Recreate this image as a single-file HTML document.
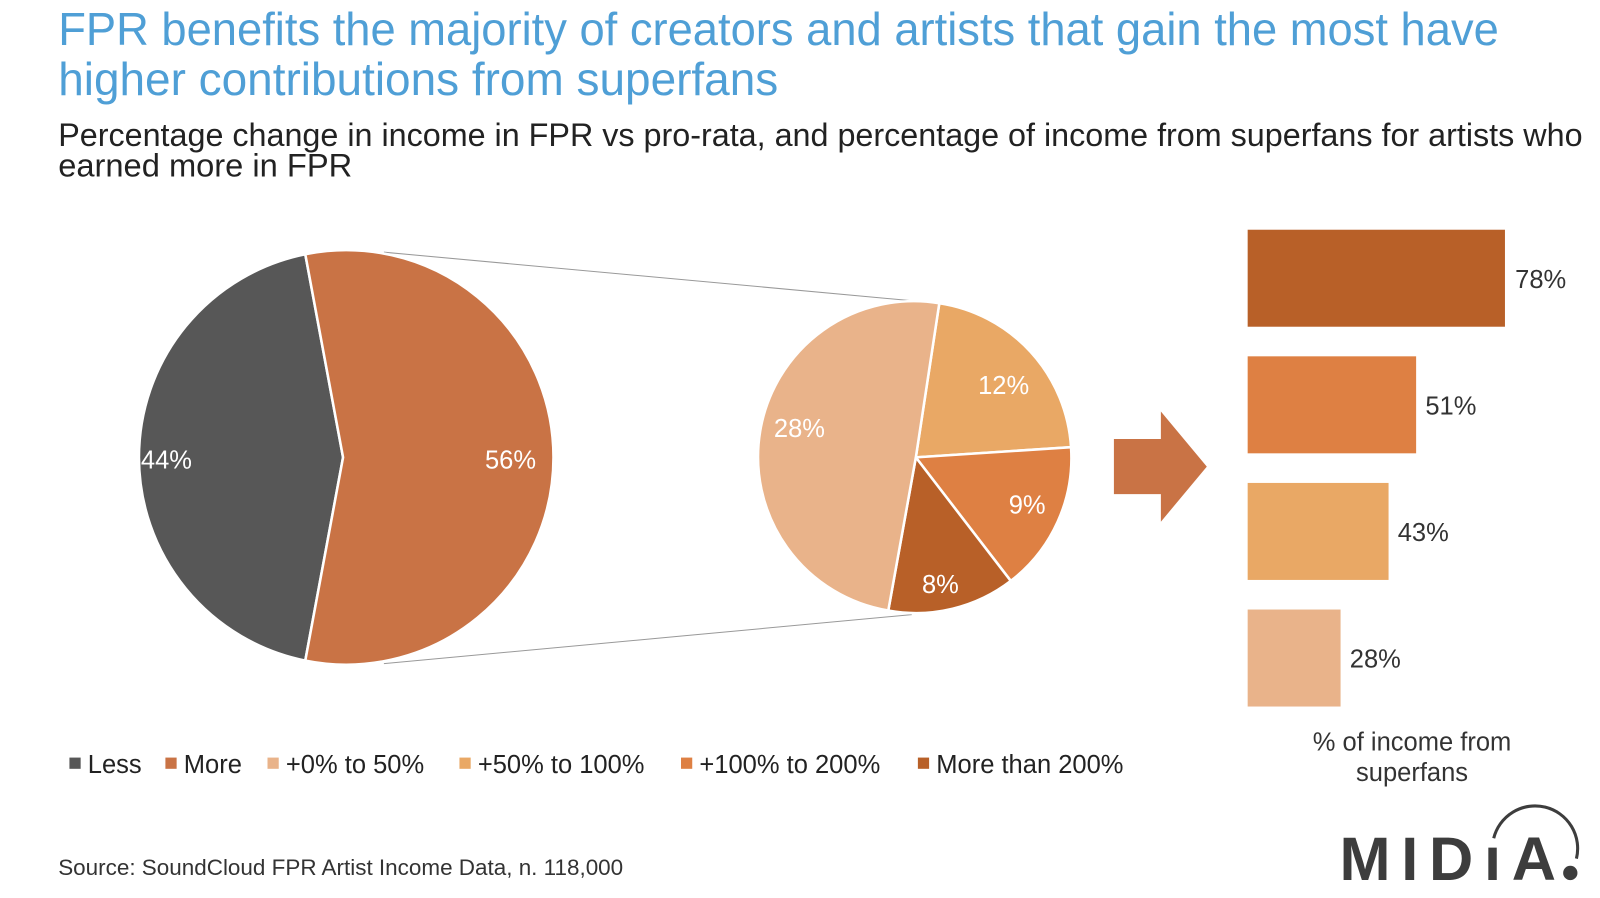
<!DOCTYPE html>
<html><head><meta charset="utf-8"><style>
body{margin:0;background:#fff;width:1600px;height:893px;overflow:hidden;font-family:"Liberation Sans",sans-serif;}
</style></head><body>
<svg width="1600" height="893" viewBox="0 0 1600 893" xmlns="http://www.w3.org/2000/svg" font-family="Liberation Sans, sans-serif">
<g transform="scale(1.021)">
<text x="57" y="44" font-size="45" fill="#4f9fd6" textLength="1411" lengthAdjust="spacingAndGlyphs">FPR benefits the majority of creators and artists that gain the most have</text>
<text x="57" y="93" font-size="45" fill="#4f9fd6">higher contributions from superfans</text>
<text x="57" y="143" font-size="32" fill="#222" textLength="1493" lengthAdjust="spacingAndGlyphs">Percentage change in income in FPR vs pro-rata, and percentage of income from superfans for artists who</text>
<text x="57" y="173" font-size="32" fill="#222">earned more in FPR</text>
<line x1="376" y1="247" x2="920" y2="297" stroke="#999" stroke-width="1"/>
<line x1="376" y1="650" x2="893" y2="602" stroke="#999" stroke-width="1"/>
<path d="M336,448 L299,249 A203,203 0 0 0 299,647 Z" fill="#575757" stroke="#fff" stroke-width="2.5"/>
<path d="M336,448 L299,647 A203,203 0 1 0 299,249 Z" fill="#c97345" stroke="#fff" stroke-width="2.5"/>
<text x="138" y="459" font-size="25" fill="#fff">44%</text>
<text x="475" y="459" font-size="25" fill="#fff">56%</text>
<g stroke="#fff" stroke-width="2.5">
<path d="M897,448 L920,297 A152,152 0 0 1 1049,438 Z" fill="#e9a865"/>
<path d="M897,448 L1049,438 A152,152 0 0 1 990,569 Z" fill="#de8043"/>
<path d="M897,448 L990,569 A152,152 0 0 1 870,598 Z" fill="#b86028"/>
<path d="M897,448 L870,598 A152,152 0 0 1 920,297 Z" fill="#e9b38a"/>
</g>
<text x="958" y="386" font-size="25" fill="#fff">12%</text>
<text x="988" y="503" font-size="25" fill="#fff">9%</text>
<text x="903" y="581" font-size="25" fill="#fff">8%</text>
<text x="758" y="428" font-size="25" fill="#fff">28%</text>
<path d="M1091,430 L1137,430 L1137,403 L1182,457 L1137,511 L1137,484 L1091,484 Z" fill="#c97345"/>
<rect x="1222" y="225" width="252" height="95" fill="#b86028"/>
<rect x="1222" y="349" width="165" height="95" fill="#de8043"/>
<rect x="1222" y="473" width="138" height="95" fill="#e9a865"/>
<rect x="1222" y="597" width="91" height="95" fill="#e9b38a"/>
<g font-size="25" fill="#333">
<text x="1484" y="282">78%</text>
<text x="1396" y="406">51%</text>
<text x="1369" y="530">43%</text>
<text x="1322" y="654">28%</text>
<text x="1383" y="735" text-anchor="middle">% of income from</text>
<text x="1383" y="765" text-anchor="middle">superfans</text>
</g>
<g font-size="25" fill="#222">
<rect x="68" y="742" width="11" height="11" fill="#575757"/><text x="86" y="757">Less</text>
<rect x="162" y="742" width="11" height="11" fill="#c97345"/><text x="180" y="757">More</text>
<rect x="262" y="742" width="11" height="11" fill="#e9b38a"/><text x="280" y="757">+0% to 50%</text>
<rect x="450" y="742" width="11" height="11" fill="#e9a865"/><text x="468" y="757">+50% to 100%</text>
<rect x="667" y="742" width="11" height="11" fill="#de8043"/><text x="685" y="757">+100% to 200%</text>
<rect x="899" y="742" width="11" height="11" fill="#b86028"/><text x="917" y="757">More than 200%</text>
</g>
<text x="57" y="857" font-size="22" fill="#333">Source: SoundCloud FPR Artist Income Data, n. 118,000</text>
<text x="1312" y="862" font-size="60" font-weight="bold" fill="#3d3d3d" textLength="212" lengthAdjust="spacing">MIDıA</text>
<path d="M1463,821 A41,41 0 0 1 1544,841" fill="none" stroke="#3d3d3d" stroke-width="3"/>
<circle cx="1538" cy="855" r="7" fill="#3d3d3d"/>
</g>
</svg>
</body></html>
